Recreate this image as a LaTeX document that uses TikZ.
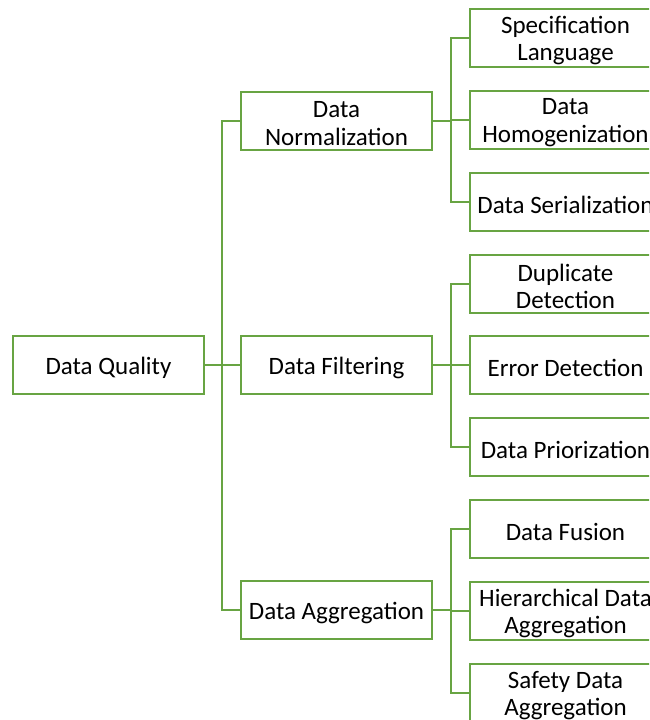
\documentclass[tikz,border=0pt]{standalone}
\usepackage{fontspec}
\setmainfont{Carlito}
\definecolor{grn}{HTML}{68A443}
\begin{document}
\begin{tikzpicture}[x=1pt,y=-1pt,
  box/.style={draw=grn,line width=2.3pt,fill=white,minimum width=191pt,minimum height=58pt,
    inner sep=0pt},
  lab/.style={inner sep=0pt,align=center,yshift=-2.5pt,font=\fontsize{25}{27.5}\selectfont},
  conn/.style={draw=grn,line width=2.3pt}]
\useasboundingbox (0,0) rectangle (649,720);
\clip (0,0) rectangle (649,720);
\node[box,label={[lab]center:Data Quality}] (q) at (108.5,365) {};
\node[box,label={[lab]center:{Data\\Normalization}}] (n) at (336.5,121) {};
\node[box,label={[lab]center:Data Filtering}] (f) at (336.5,365) {};
\node[box,label={[lab]center:Data Aggregation}] (a) at (336.5,610) {};
\node[box,label={[lab]center:{Specification\\Language}}] (n1) at (565.5,38) {};
\node[box,label={[lab]center:{Data\\Homogenization}}] (n2) at (565.5,120) {};
\node[box,label={[lab]center:Data Serialization}] (n3) at (565.5,202) {};
\node[box,label={[lab]center:{Duplicate\\Detection}}] (f1) at (565.5,284) {};
\node[box,label={[lab]center:Error Detection}] (f2) at (565.5,365) {};
\node[box,label={[lab]center:Data Priorization}] (f3) at (565.5,447) {};
\node[box,label={[lab]center:Data Fusion}] (a1) at (565.5,529) {};
\node[box,label={[lab]center:{Hierarchical Data\\Aggregation}}] (a2) at (565.5,611) {};
\node[box,label={[lab]center:{Safety Data\\Aggregation}}] (a3) at (565.5,693) {};
\coordinate (qf) at (222,365);
\draw[conn] (q.east) -- (qf);
\draw[conn] (qf) |- (n.west);
\draw[conn] (qf) -- (f.west);
\draw[conn] (qf) |- (a.west);
\coordinate (nf) at (451,121);
\draw[conn] (n.east) -- (nf);
\draw[conn] (nf) |- (n1.west);
\draw[conn] (nf) |- (n2.west);
\draw[conn] (nf) |- (n3.west);
\coordinate (ff) at (451,365);
\draw[conn] (f.east) -- (ff);
\draw[conn] (ff) |- (f1.west);
\draw[conn] (ff) -- (f2.west);
\draw[conn] (ff) |- (f3.west);
\coordinate (af) at (451,610);
\draw[conn] (a.east) -- (af);
\draw[conn] (af) |- (a1.west);
\draw[conn] (af) |- (a2.west);
\draw[conn] (af) |- (a3.west);
\end{tikzpicture}
\end{document}
